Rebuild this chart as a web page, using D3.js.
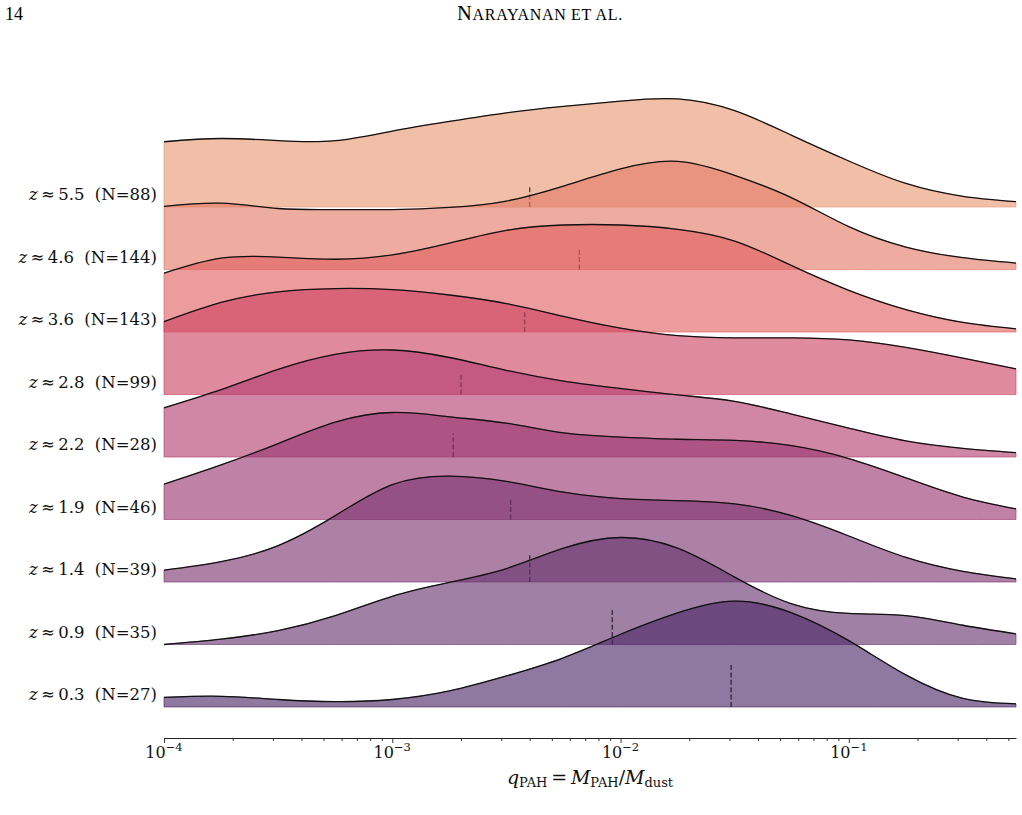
<!DOCTYPE html>
<html><head><meta charset="utf-8">
<script src="https://cdn.jsdelivr.net/npm/d3@7"></script>
<style>body{margin:0;background:#fff} svg{display:block}</style>
</head><body>
<svg id="c" width="1022" height="815"></svg>
<script>
// ---- data ----
const redshifts = ["5.5","4.6","3.6","2.8","2.2","1.9","1.4","0.9","0.3"];
const counts = [88,144,143,99,28,46,39,35,27];
// grid of log10(q_PAH) where the KDE curves are sampled
const qExponents = [-4,-3.75,-3.5,-3.25,-3,-2.75,-2.5,-2.25,-2,-1.75,-1.5,-1.25,-1,-0.75,-0.5,-0.2676];
// normalised KDE densities per redshift bin
const dens_z55 = [0.61,0.64,0.62,0.62,0.71,0.80,0.88,0.94,0.99,1.01,0.90,0.67,0.43,0.22,0.10,0.05];
const dens_z46 = [0.59,0.62,0.57,0.56,0.56,0.58,0.64,0.78,0.94,1.01,0.88,0.67,0.40,0.21,0.11,0.06];
const dens_z36 = [0.55,0.69,0.70,0.68,0.72,0.83,0.95,1.00,1.00,0.96,0.85,0.62,0.39,0.21,0.09,0.03];
const dens_z28 = [0.68,0.86,0.96,0.99,0.98,0.93,0.85,0.73,0.62,0.55,0.53,0.53,0.51,0.44,0.34,0.24];
const dens_z22 = [0.46,0.63,0.82,0.96,1.00,0.93,0.81,0.71,0.64,0.58,0.52,0.40,0.27,0.15,0.08,0.04];
const dens_z19 = [0.33,0.51,0.71,0.91,1.00,0.96,0.90,0.81,0.77,0.75,0.74,0.69,0.57,0.39,0.21,0.10];
const dens_z14 = [0.11,0.19,0.34,0.62,0.91,0.99,0.94,0.84,0.78,0.76,0.73,0.62,0.43,0.23,0.10,0.03];
const dens_z09 = [0.00,0.05,0.13,0.27,0.45,0.58,0.71,0.90,1.00,0.90,0.63,0.38,0.29,0.27,0.18,0.10];
const dens_z03 = [0.09,0.10,0.07,0.05,0.07,0.15,0.29,0.46,0.68,0.88,0.99,0.88,0.62,0.30,0.08,0.03];
const medians = [0.0040,0.0066,0.0038,0.0020,0.00185,0.0033,0.0040,0.0092,0.0305];
const medianMarkHeights = [0.20,0.20,0.20,0.19,0.22,0.20,0.25,0.33,0.40];
const fillColors = ["#e89873","#e47966","#e05f5f","#cd4262","#b33e70","#983570","#7b3270","#66346e","#4a2766"];
const tickExponents = [-4,-3,-2,-1];

const densities = [dens_z55,dens_z46,dens_z36,dens_z28,dens_z22,dens_z19,dens_z14,dens_z09,dens_z03];

// ---- layout ----
const svg = d3.select("#c");
const x = d3.scaleLog().domain([1e-4, 0.54]).range([164, 1016]);
const rowY = d3.scaleLinear().domain([0, redshifts.length - 1]).range([207, 707]);
const yDens = d3.scaleLinear().domain([0, 1]).range([0, 107]);
const alpha = 0.62;
const serif = "'DejaVu Serif', serif";

// header
svg.append("text").attr("x", 5).attr("y", 20)
  .attr("font-family", "'Liberation Serif', serif").attr("font-size", 18).text("14");
const hdr = svg.append("text").attr("x", 540).attr("y", 20).attr("text-anchor", "middle")
  .attr("font-family", "'Liberation Serif', serif").attr("letter-spacing", 0.7);
hdr.append("tspan").attr("font-size", 20.5).text("N");
hdr.append("tspan").attr("font-size", 16).text("ARAYANAN ET AL.");

const rowsG = svg.append("g");
densities.forEach((dens, i) => {
  const b = rowY(i);
  const g = rowsG.append("g");
  const pts = dens.map((d, j) => [x(Math.pow(10, qExponents[j])), b - yDens(d)]);
  const area = d3.area().x(p => p[0]).y0(b).y1(p => p[1]).curve(d3.curveNatural);
  const line = d3.line().x(p => p[0]).y(p => p[1]).curve(d3.curveNatural);
  g.append("path").attr("d", area(pts))
    .attr("fill", fillColors[i]).attr("fill-opacity", alpha)
    .attr("stroke", fillColors[i]).attr("stroke-opacity", alpha).attr("stroke-width", 1);
  g.append("path").attr("d", line(pts)).attr("fill", "none")
    .attr("stroke", "#111").attr("stroke-width", 1.3);
  g.append("line")
    .attr("x1", x(medians[i])).attr("x2", x(medians[i]))
    .attr("y1", b).attr("y2", b - yDens(medianMarkHeights[i]))
    .attr("stroke", "#000").attr("stroke-opacity", 0.65)
    .attr("stroke-width", 1.4).attr("stroke-dasharray", "5,2.4");
  // label
  const t = svg.append("text").attr("x", 157).attr("y", b - 7)
    .attr("text-anchor", "end").attr("font-family", serif).attr("font-size", 16.5)
    .attr("fill", "#111");
  t.append("tspan").attr("font-style", "italic").text("z");
  t.append("tspan").text("\u2009\u2248\u2009" + redshifts[i] + "\u00a0\u00a0(N=" + counts[i] + ")");
});

// axis
const axisY = 738;
const axG = svg.append("g").attr("transform", `translate(0,${axisY})`);
axG.call(d3.axisBottom(x).tickValues(tickExponents.map(e => Math.pow(10, e)))
  .tickSize(5).tickSizeOuter(0).tickFormat(""));
const minor = [];
tickExponents.concat([0]).forEach(e => { for (let k = 2; k <= 9; k++) { const v = k * Math.pow(10, e - 1); if (v >= 1e-4 && v <= 0.54) minor.push(v); } });
const axMinor = svg.append("g").attr("transform", `translate(0,${axisY})`);
axMinor.call(d3.axisBottom(x).tickValues(minor).tickSize(3).tickSizeOuter(0).tickFormat(""));
axMinor.select(".domain").remove();
svg.selectAll(".domain").attr("stroke", "#222").attr("stroke-width", 1);
svg.selectAll(".tick line").attr("stroke", "#222").attr("stroke-width", 0.9);

tickExponents.forEach(e => {
  const t = svg.append("text").attr("x", x(Math.pow(10, e))).attr("y", 758)
    .attr("text-anchor", "middle").attr("font-family", serif).attr("font-size", 16).attr("fill", "#111");
  t.append("tspan").text("10");
  t.append("tspan").attr("font-size", 11.5).attr("dy", -7).text("\u2212" + Math.abs(e));
});

// x label
const xl = svg.append("text").attr("x", 590).attr("y", 784).attr("text-anchor", "middle")
  .attr("font-family", serif).attr("font-size", 19).attr("fill", "#111");
xl.append("tspan").attr("font-style", "italic").text("q");
xl.append("tspan").attr("font-size", 13).attr("dy", 3).text("PAH");
xl.append("tspan").attr("dy", -3).text("\u2009=\u2009");
xl.append("tspan").attr("font-style", "italic").text("M");
xl.append("tspan").attr("font-size", 13).attr("dy", 3).text("PAH");
xl.append("tspan").attr("dy", -3).text("/");
xl.append("tspan").attr("font-style", "italic").text("M");
xl.append("tspan").attr("font-size", 13).attr("dy", 3).text("dust");
</script>
</body></html>
